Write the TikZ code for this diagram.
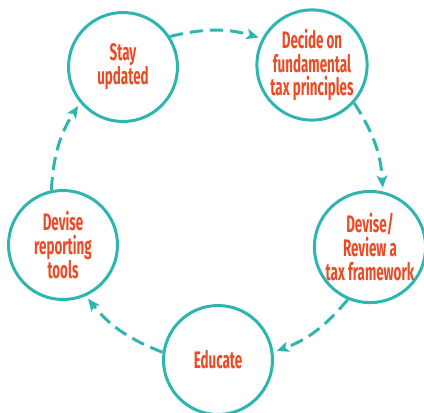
\documentclass[tikz,border=0pt]{standalone}
\usepackage{fontspec}
\newfontfamily\stagefont[FakeStretch=0.56]{Fira Sans}
\usetikzlibrary{arrows.meta}

\definecolor{cycteal}{HTML}{2DB6AF}
\definecolor{cycred}{HTML}{EC4A24}

\begin{document}
\begin{tikzpicture}[x=0.02cm,y=-0.02cm,->,>={Stealth[length=7pt,width=6pt,inset=1.8pt]},
    stage/.style={shape=circle,draw=cycteal,line width=1.7pt,minimum size=2.18cm,inner sep=0pt,
        align=center,text=cycred,font=\stagefont\bfseries\fontsize{13.6}{13.6}\selectfont},
    link/.style={draw=cycteal,line width=1.7pt,dash pattern=on 7.5pt off 4pt,bend left=15,shorten >=2pt}]
                \useasboundingbox (0,0) rectangle (424,413);
                \node[stage](update)at(123, 67){Stay\\updated};
                \node[stage](decide)at(312, 65){Decide on\\fundamental\\tax principles};
                \node[stage](review)at(370, 247){Devise/\\Review a\\tax framework};
                \node[stage](educate)at(218, 360){Educate};
                \node[stage](tools)at(63, 245){Devise\\reporting\\tools};
                % the cycle, clockwise
                \path (update.33) edge[link] (decide.152)
                (decide.-42) edge[link] (review.77)
                (review.-113) edge[link] (educate.8)
                (educate.172) edge[link] (tools.-66)
                (tools.102) edge[link] (update.220);
            \end{tikzpicture}
\end{document}
